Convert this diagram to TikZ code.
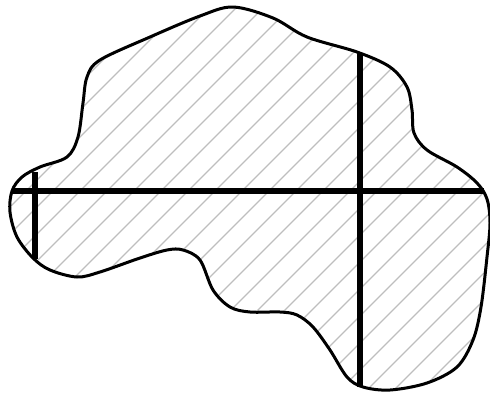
\documentclass[tikz,border=0pt]{standalone}
\begin{document}
\begin{tikzpicture}[x=1pt,y=-1pt,
  outline/.style={line width=3pt,line join=round},
  hatchline/.style={line width=1.3pt,draw={rgb,255:red,190;green,190;blue,190}},
  bar/.style={line width=6pt}]
\useasboundingbox (0,0) rectangle (490,394);
\def\blob{plot[smooth cycle,tension=0.55] coordinates {
(233,7) (273,18) (307,37) (357,52) (390,67) (407,87) (412,110) (414,133)
(427,150) (457,167) (477,183) (487,199) (490,223) (487,257) (481,307)
(473,340) (457,367) (427,383) (390,390) (363,387) (347,377) (330,350)
(313,327) (297,315) (280,312) (250,312) (230,307) (213,290) (200,260)
(183,250) (167,250) (140,258) (100,272) (77,277) (50,270) (33,258)
(17,237) (10,212) (12,191) (22,177) (40,167) (67,157) (78,137) (83,103)
(87,77) (100,60) (150,37) (200,16)}}
\begin{scope}
\clip \blob;
\foreach \k in {0,...,36} {
  \pgfmathsetmacro{\c}{1+27*\k}
  \draw[hatchline] (\c,0) -- (\c-500,500);
}
\end{scope}
\draw[bar] (12,191) -- (484,191);
\draw[bar] (360,53) -- (360,387);
\draw[bar] (35,172) -- (35,259);
\draw[outline] \blob;
\end{tikzpicture}
\end{document}
